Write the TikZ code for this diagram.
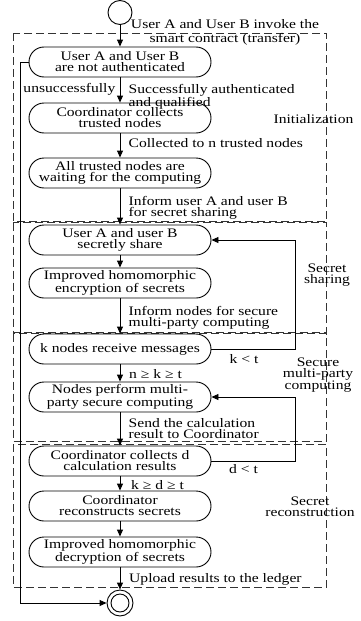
\documentclass[tikz,border=0pt]{standalone}
\usepackage{fontspec}
\setmainfont{Liberation Serif}[FakeStretch=1.2]
\usetikzlibrary{arrows.meta}

\begin{document}
\begin{tikzpicture}[x=1pt,y=-1pt,
  every node/.style={font=\fontsize{13}{11}\selectfont, inner sep=0pt},
  state/.style={draw, line width=0.9pt, rounded corners=15pt,
    minimum width=182pt, minimum height=30pt, align=center},
  flow/.style={line width=0.9pt, -{Triangle[length=7pt,width=6pt]}},
  phase/.style={draw=black!80, line width=1pt, dash pattern=on 8pt off 4pt},
  note/.style={align=left, anchor=north west},
  stage/.style={align=center, anchor=north}
]
\useasboundingbox (0,0) rectangle (360,621);

% phase frames
\draw[phase] (13,33) rectangle (326.5,221);
\draw[phase] (13,222.5) rectangle (326.5,332);
\draw[phase] (13,333.5) rectangle (326.5,441);
\draw[phase] (13,444) rectangle (326.5,587);

% start and end
\node[draw, circle, line width=0.9pt, minimum size=24pt] (start) at (120,12.5) {};
\node[draw, circle, line width=0.9pt, minimum size=26pt] (end) at (120,603) {};
\node[draw, circle, line width=0.9pt, minimum size=18pt] (endin) at (end) {};

% states
\node[state] (n1) at (120,62) {User A and User B\\are not authenticated};
\node[state] (n2) at (120,118) {Coordinator collects\\trusted nodes};
\node[state] (n3) at (120,173) {All trusted nodes are\\waiting for the computing};
\node[state] (n4) at (120,240) {User A and user B\\secretly share};
\node[state] (n5) at (120,283) {Improved homomorphic\\encryption of secrets};
\node[state] (n6) at (120,349) {k nodes receive messages};
\node[state] (n7) at (120,397) {Nodes perform multi-\\party secure computing};
\node[state] (n8) at (120,461) {Coordinator collects d\\calculation results};
\node[state] (n9) at (120,506) {Coordinator\\reconstructs secrets};
\node[state] (n10) at (120,552) {Improved homomorphic\\decryption of secrets};

% main flow
\draw[flow] (start) -- (n1);
\draw[flow] (n1) -- (n2);
\draw[flow] (n2) -- (n3);
\draw[flow] (n3) -- (n4);
\draw[flow] (n4) -- (n5);
\draw[flow] (n5) -- (n6);
\draw[flow] (n6) -- (n7);
\draw[flow] (n7) -- (n8);
\draw[flow] (n8) -- (n9);
\draw[flow] (n9) -- (n10);
\draw[flow] (n10) -- (end);

% failure and retry loops
\draw[flow] (n1.west) -- ++(-8.5,0) |- (end.west);
\draw[flow] (n6.east) -- ++(84,0) |- (n4.east);
\draw[flow] (n8.east) -- ++(84,0) |- (n7.east);

% transition labels
\node[align=center, anchor=north, font=\fontsize{13}{14}\selectfont] (linvoke) at (225,19.2)
  {User A and User B invoke the\\smart contract (transfer)};
\node[note] (lsucc) at (128.5,84.2) {Successfully authenticated\\and qualified};
\node[anchor=base east] (lfail) at (115.5,92) {unsuccessfully};
\node[anchor=base west] (lcoll) at (128.5,147) {Collected to n trusted nodes};
\node[note] (linform) at (128.5,196.2) {Inform user A and user B\\for secret sharing};
\node[note] (lnodes) at (128.5,306.2) {Inform nodes for secure\\multi-party computing};
\node[anchor=base] (lklt) at (244,363) {k < t};
\node[anchor=base west] (lkge) at (129,378) {n ≥ k ≥ t};
\node[note] (lsend) at (128.5,418.2) {Send the calculation\\result to Coordinator};
\node[anchor=base] (ldlt) at (243.5,473) {d < t};
\node[anchor=base west] (ldge) at (131,489) {k ≥ d ≥ t};
\node[anchor=base west] (lupl) at (129,582) {Upload results to the ledger};

% phase names
\node[anchor=base] (pinit) at (313.5,123) {Initialization};
\node[stage] (pshare) at (327,263.2) {Secret\\sharing};
\node[stage, font=\fontsize{13}{11.5}\selectfont] (pmpc) at (318,357.2) {Secure\\multi-party\\computing};
\node[stage] (precon) at (310,496.2) {Secret\\reconstruction};
\end{tikzpicture}
\end{document}
